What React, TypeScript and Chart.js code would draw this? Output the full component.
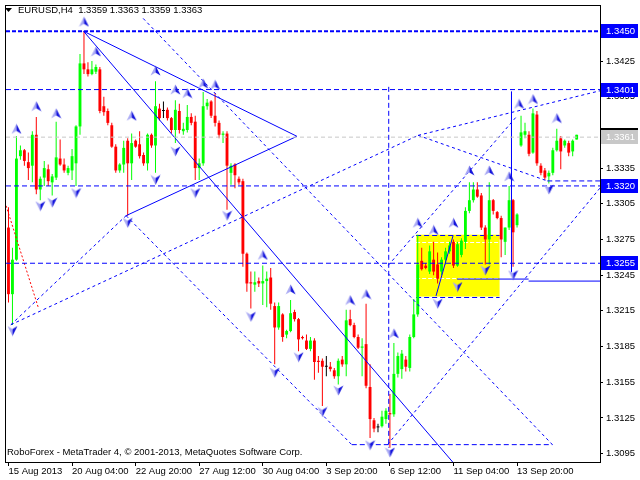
import React, { useEffect, useRef } from 'react';
import { Chart, registerables } from 'chart.js';

Chart.register(...registerables);

// ---- Candle data (EURUSD H4) ----
const opens = [
  1.3285,1.3229,1.3258,1.3345,1.3350,1.3340,1.3337,1.3363,1.3317,1.3327,
  1.3334,1.3323,1.3327,1.3343,1.3338,1.3331,1.3333,1.3339,1.3370,1.3423,
  1.3418,1.3414,1.3416,1.3418,1.3387,1.3383,1.3371,1.3353,1.3333,1.3338,
  1.3358,1.3339,1.3358,1.3355,1.3346,1.3339,1.3363,1.3354,1.3385,1.3383,
  1.3384,1.3377,1.3367,1.3383,1.3366,1.3367,1.3378,1.3374,1.3335,1.3339,
  1.3387,1.3391,1.3379,1.3373,1.3363,1.3364,1.3331,1.3338,1.3326,1.3324,
  1.3263,1.3239,1.3237,1.3240,1.3238,1.3240,1.3243,1.3219,1.3201,1.3212,
  1.3195,1.3198,1.3214,1.3208,1.3193,1.3190,1.3183,1.3190,1.3173,1.3173,
  1.3168,1.3168,1.3165,1.3160,1.3174,1.3170,1.3208,1.3203,1.3193,1.3184,
  1.3187,1.3151,1.3123,1.3117,1.3118,1.3124,1.3129,1.3128,1.3162,1.3166,
  1.3174,1.3167,1.3193,1.3212,1.3257,1.3253,1.3248,1.3258,1.3254,1.3248,
  1.3258,1.3265,1.3273,1.3253,1.3262,1.3273,1.3299,1.3308,1.3317,1.3312,
  1.3285,1.3275,1.3308,1.3298,1.3293,1.3273,1.3285,1.3308,1.3287,1.3354,
  1.3363,1.3363,1.3348,1.3380,1.3337,1.3333,1.3328,1.3331,1.3350,1.3360,
  1.3354,1.3356,1.3349,1.3359,
];
const highs = [
  1.3302,1.3268,1.3362,1.3354,1.3351,1.3348,1.3366,1.3378,1.3328,1.3341,
  1.3338,1.3330,1.3374,1.3359,1.3343,1.3337,1.3351,1.3371,1.3431,1.3450,
  1.3424,1.3425,1.3422,1.3420,1.3395,1.3385,1.3373,1.3355,1.3339,1.3358,
  1.3360,1.3364,1.3359,1.3366,1.3348,1.3364,1.3364,1.3408,1.3389,1.3391,
  1.3386,1.3378,1.3392,1.3389,1.3373,1.3388,1.3381,1.3379,1.3343,1.3399,
  1.3393,1.3392,1.3398,1.3375,1.3366,1.3366,1.3339,1.3339,1.3328,1.3326,
  1.3264,1.3248,1.3248,1.3243,1.3253,1.3248,1.3251,1.3222,1.3222,1.3213,
  1.3199,1.3224,1.3216,1.3209,1.3194,1.3195,1.3193,1.3192,1.3177,1.3175,
  1.3177,1.3172,1.3167,1.3175,1.3177,1.3216,1.3216,1.3205,1.3195,1.3192,
  1.3221,1.3170,1.3125,1.3120,1.3131,1.3133,1.3145,1.3188,1.3180,1.3182,
  1.3177,1.3195,1.3225,1.3279,1.3268,1.3255,1.3270,1.3273,1.3264,1.3260,
  1.3268,1.3273,1.3275,1.3273,1.3276,1.3302,1.3323,1.3323,1.3323,1.3314,
  1.3287,1.3323,1.3309,1.3299,1.3295,1.3285,1.3320,1.3309,1.3297,1.3379,
  1.3373,1.3366,1.3385,1.3383,1.3339,1.3335,1.3333,1.3352,1.3368,1.3362,
  1.3359,1.3358,1.3359,1.3363,
];
const lows = [
  1.3222,1.3203,1.3257,1.3342,1.3337,1.3325,1.3323,1.3313,1.3308,1.3320,
  1.3320,1.3312,1.3325,1.3337,1.3331,1.3329,1.3325,1.3320,1.3363,1.3414,
  1.3412,1.3413,1.3414,1.3381,1.3379,1.3371,1.3352,1.3331,1.3331,1.3331,
  1.3295,1.3325,1.3352,1.3343,1.3337,1.3333,1.3352,1.3331,1.3375,1.3377,
  1.3375,1.3364,1.3356,1.3364,1.3363,1.3365,1.3371,1.3325,1.3325,1.3337,
  1.3384,1.3377,1.3370,1.3360,1.3356,1.3300,1.3321,1.3318,1.3321,1.3252,
  1.3231,1.3217,1.3231,1.3235,1.3220,1.3218,1.3216,1.3170,1.3199,1.3189,
  1.3192,1.3197,1.3206,1.3181,1.3191,1.3182,1.3181,1.3157,1.3163,1.3135,
  1.3160,1.3164,1.3158,1.3153,1.3168,1.3160,1.3202,1.3192,1.3183,1.3160,
  1.3150,1.3108,1.3113,1.3113,1.3117,1.3120,1.3100,1.3126,1.3159,1.3158,
  1.3164,1.3164,1.3192,1.3210,1.3249,1.3250,1.3246,1.3245,1.3238,1.3245,
  1.3254,1.3263,1.3251,1.3252,1.3260,1.3267,1.3297,1.3306,1.3310,1.3283,
  1.3254,1.3254,1.3296,1.3292,1.3260,1.3262,1.3283,1.3252,1.3285,1.3353,
  1.3360,1.3345,1.3347,1.3337,1.3329,1.3325,1.3322,1.3329,1.3349,1.3334,
  1.3352,1.3345,1.3345,1.3359,
];
const closes = [
  1.3229,1.3258,1.3343,1.3350,1.3341,1.3335,1.3363,1.3317,1.3326,1.3335,
  1.3324,1.3328,1.3344,1.3338,1.3333,1.3335,1.3345,1.3370,1.3423,1.3418,
  1.3414,1.3418,1.3420,1.3383,1.3382,1.3373,1.3353,1.3333,1.3338,1.3352,
  1.3339,1.3356,1.3353,1.3345,1.3339,1.3363,1.3354,1.3387,1.3377,1.3383,
  1.3377,1.3367,1.3384,1.3367,1.3368,1.3378,1.3373,1.3335,1.3339,1.3387,
  1.3390,1.3379,1.3373,1.3363,1.3364,1.3337,1.3337,1.3329,1.3323,1.3263,
  1.3238,1.3238,1.3239,1.3238,1.3240,1.3242,1.3221,1.3201,1.3219,1.3193,
  1.3198,1.3213,1.3208,1.3191,1.3192,1.3183,1.3190,1.3172,1.3172,1.3168,
  1.3168,1.3166,1.3160,1.3173,1.3170,1.3207,1.3203,1.3193,1.3184,1.3185,
  1.3152,1.3124,1.3116,1.3117,1.3126,1.3131,1.3128,1.3162,1.3177,1.3179,
  1.3168,1.3193,1.3212,1.3254,1.3250,1.3251,1.3265,1.3248,1.3242,1.3258,
  1.3265,1.3270,1.3253,1.3271,1.3274,1.3299,1.3308,1.3317,1.3311,1.3285,
  1.3275,1.3308,1.3299,1.3293,1.3275,1.3285,1.3308,1.3281,1.3296,1.3365,
  1.3366,1.3347,1.3381,1.3339,1.3331,1.3327,1.3331,1.3350,1.3358,1.3349,
  1.3358,1.3348,1.3358,1.3363,
];

// ---- Axis ticks ----
const xTickBars = [0, 16, 32, 48, 64, 80, 96, 112, 128];
const xTickLabels = ['15 Aug 2013', '20 Aug 04:00', '22 Aug 20:00', '27 Aug 12:00', '30 Aug 04:00', '3 Sep 20:00', '6 Sep 12:00', '11 Sep 04:00', '13 Sep 20:00'];
const yTicks = [1.3095, 1.3125, 1.3155, 1.3185, 1.3215, 1.3245, 1.3275, 1.3305, 1.3335, 1.3365, 1.3395, 1.3425];

// ---- Fractal arrows ----
const upArrowBars = [2, 7, 12, 19, 22, 31, 37, 42, 45, 49, 52, 64, 71, 86, 90, 97, 103, 107, 112, 116, 121, 126, 128.5, 132, 138];
const upArrowPrices = [1.3368, 1.3387, 1.3381, 1.3458, 1.3433, 1.3379, 1.3417, 1.3401, 1.3398, 1.3406, 1.3405, 1.3262, 1.3233, 1.3224, 1.3229, 1.3196, 1.3289, 1.3283, 1.3289, 1.3333, 1.3333, 1.3328, 1.3389, 1.3393, 1.3377];
const downArrowBars = [1, 8, 11, 17, 30, 37, 42, 47, 55, 61, 67, 73, 79, 83, 91, 96, 108, 113, 120, 127, 136];
const downArrowPrices = [1.3198, 1.3303, 1.3306, 1.3314, 1.3289, 1.3325, 1.3349, 1.3314, 1.3295, 1.3210, 1.3163, 1.3176, 1.3130, 1.3148, 1.3102, 1.3096, 1.3221, 1.3235, 1.3249, 1.3245, 1.3317];

// ---- Price levels ----
const levelPrices = [1.3450, 1.3401, 1.3320, 1.3255];
const bidPrice = 1.3361;
const lastPrice = 1.3363;

// ---- Drawn objects: [bar1, price1, bar2, price2] ----
const solidSegments = [
  [18.9, 1.3450, 72.6, 1.33617],
  [29.6, 1.3295, 72.6, 1.33617],
  [18.9, 1.3450, 111.9, 1.30875],
  [107.6, 1.32275, 111.9, 1.32783],
  [112.9, 1.32417, 130.9, 1.32417],
  [130.9, 1.3240, 148.9, 1.3240],
  [126.6, 1.33992, 126.6, 1.32475],
];
const dottedSegments = [
  [0.6, 1.32033, 29.6, 1.3295],
  [0.6, 1.32033, 103.1, 1.33625],
  [103.1, 1.33625, 148.9, 1.3400],
  [103.1, 1.33625, 135.6, 1.33242],
  [29.6, 1.3295, 86.4, 1.31025],
  [33.9, 1.34608, 136.9, 1.31025],
  [95.6, 1.32533, 128.1, 1.33792],
  [95.4, 1.31025, 148.9, 1.33183],
];
const dashedSegments = [
  [135.6, 1.33242, 148.9, 1.33242],
  [86.4, 1.31025, 136.9, 1.31025],
  [95.7, 1.34033, 95.7, 1.3100],
];
const redDotted = [-0.6, 1.33033, 7.6, 1.32167];
const rangeBoxBars = [102.6, 123.6];
const rangeBoxPrices = [1.3279, 1.3227];
const rangeInnerLevels = [1.3273, 1.3243];

const X_MIN = -0.625;
const X_MAX = 148.875;
const Y_MIN = 1.3087917;
const Y_MAX = 1.347125;
const FONT = '"Liberation Sans", Arial, sans-serif';
const BLUE = '#0000ff';

function makeArrow(up: boolean) {
  const c = document.createElement('canvas');
  c.width = 11;
  c.height = 11;
  const g = c.getContext('2d') as CanvasRenderingContext2D;
  if (!up) {
    g.translate(0, 11);
    g.scale(1, -1);
  }
  g.beginPath();
  g.moveTo(5.5, 0.5);
  g.lineTo(0.5, 10.5);
  g.lineTo(5.5, 7.5);
  g.closePath();
  g.fillStyle = '#a8a8f4';
  g.fill();
  g.beginPath();
  g.moveTo(5.5, 0.5);
  g.lineTo(10.5, 10.5);
  g.lineTo(5.5, 7.5);
  g.closePath();
  g.fillStyle = '#1414dc';
  g.fill();
  return c;
}

function seg(s: number[], color: string, dash: number[], width = 1) {
  return {
    type: 'line',
    data: [{ x: s[0], y: s[1] }, { x: s[2], y: s[3] }],
    borderColor: color,
    borderWidth: width,
    borderDash: dash,
    pointRadius: 0,
    fill: false,
    tension: 0,
    order: 2,
  };
}

export default function App() {
  const ref = useRef<HTMLCanvasElement | null>(null);

  useEffect(() => {
    document.body.style.margin = '0';
    const canvas = ref.current;
    if (!canvas) return;

    const colors = opens.map((o, i) => (closes[i] > o ? '#00ff00' : closes[i] < o ? '#ff0000' : '#000000'));
    const wickData = opens.map((_, i) => ({ x: i, y: [lows[i], highs[i]] }));
    const bodyData = opens.map((o, i) => ({ x: i, y: [o, closes[i]] }));

    const datasets: any[] = [
      {
        type: 'bar',
        data: wickData,
        backgroundColor: colors,
        borderWidth: 0,
        grouped: false,
        maxBarThickness: 1,
        inflateAmount: 0,
        order: 10,
      },
      {
        type: 'bar',
        data: bodyData,
        backgroundColor: colors,
        borderWidth: 0,
        grouped: false,
        maxBarThickness: 3,
        minBarLength: 1,
        inflateAmount: 0,
        order: 9,
      },
    ];

    datasets.push(seg([X_MIN, bidPrice, X_MAX, bidPrice], '#c8c8c8', [4, 3]));
    levelPrices.forEach((p, i) => {
      datasets.push(seg([X_MIN, p, X_MAX, p], BLUE, i === 0 ? [4, 2] : [5, 3], i === 0 ? 2 : 1));
    });
    solidSegments.forEach((s) => datasets.push(seg(s, BLUE, [])));
    dottedSegments.forEach((s) => datasets.push(seg(s, BLUE, [3, 3])));
    dashedSegments.forEach((s) => datasets.push(seg(s, BLUE, [5, 3])));
    datasets.push(seg(redDotted, '#ff0000', [2, 2]));

    datasets.push({
      type: 'scatter',
      data: upArrowBars.map((b, i) => ({ x: b, y: upArrowPrices[i] })),
      pointStyle: makeArrow(true),
      pointRadius: 5,
      showLine: false,
      order: 1,
    });
    datasets.push({
      type: 'scatter',
      data: downArrowBars.map((b, i) => ({ x: b, y: downArrowPrices[i] })),
      pointStyle: makeArrow(false),
      pointRadius: 5,
      showLine: false,
      order: 1,
    });

    const rangePlugin = {
      id: 'rangeBox',
      beforeDatasetsDraw(chart: any) {
        const { ctx, scales } = chart;
        const x1 = scales.x.getPixelForValue(rangeBoxBars[0]);
        const x2 = scales.x.getPixelForValue(rangeBoxBars[1]);
        const y1 = scales.y.getPixelForValue(rangeBoxPrices[0]);
        const y2 = scales.y.getPixelForValue(rangeBoxPrices[1]);
        ctx.save();
        ctx.fillStyle = '#ffff00';
        ctx.fillRect(x1, y1, x2 - x1, y2 - y1);
        ctx.strokeStyle = '#ffffff';
        ctx.lineWidth = 1;
        ctx.setLineDash([4, 2]);
        rangeInnerLevels.forEach((p) => {
          const y = Math.round(scales.y.getPixelForValue(p)) + 0.5;
          ctx.beginPath();
          ctx.moveTo(x1, y);
          ctx.lineTo(x2, y);
          ctx.stroke();
        });
        ctx.strokeStyle = BLUE;
        ctx.setLineDash([5, 3]);
        [y1, y2].forEach((yy) => {
          const y = Math.round(yy) + 0.5;
          ctx.beginPath();
          ctx.moveTo(x1, y);
          ctx.lineTo(x2, y);
          ctx.stroke();
        });
        ctx.restore();
      },
    };

    const overlayPlugin = {
      id: 'overlay',
      afterDraw(chart: any) {
        const { ctx, chartArea, scales } = chart;
        ctx.save();
        ctx.strokeStyle = '#000';
        ctx.lineWidth = 1;
        ctx.setLineDash([]);
        ctx.strokeRect(chartArea.left - 0.5, chartArea.top - 0.5, chartArea.right - chartArea.left + 1, chartArea.bottom - chartArea.top + 1);

        ctx.fillStyle = '#000';
        ctx.beginPath();
        ctx.moveTo(5, 8);
        ctx.lineTo(12, 8);
        ctx.lineTo(8.5, 12);
        ctx.closePath();
        ctx.fill();
        ctx.font = `9.5px ${FONT}`;
        ctx.textBaseline = 'middle';
        ctx.textAlign = 'left';
        ctx.fillText('EURUSD,H4  1.3359 1.3363 1.3359 1.3363', 18, 10.5);
        ctx.fillText('RoboForex - MetaTrader 4, \u00A9 2001-2013, MetaQuotes Software Corp.', 7, 452.5);

        const bx = chartArea.right + 1;
        const box = (p: number, text: string, bg: string, fg: string) => {
          const y = Math.round(scales.y.getPixelForValue(p));
          ctx.fillStyle = bg;
          ctx.fillRect(bx, y - 7, 37, 14);
          ctx.fillStyle = fg;
          ctx.fillText(text, bx + 5, y + 0.5);
        };
        box(lastPrice, lastPrice.toFixed(4), '#000000', '#ffffff');
        box(bidPrice, bidPrice.toFixed(4), '#c8c8c8', '#ffffff');
        levelPrices.forEach((p) => box(p, p.toFixed(4), BLUE, '#ffffff'));
        ctx.restore();
      },
    };

    const chart = new Chart(canvas, {
      type: 'bar',
      data: { datasets },
      plugins: [rangePlugin, overlayPlugin],
      options: {
        animation: false,
        responsive: false,
        devicePixelRatio: 1,
        events: [],
        layout: { padding: { left: 2, top: 2, right: 0, bottom: 0 } },
        plugins: { legend: { display: false }, tooltip: { enabled: false } },
        scales: {
          x: {
            type: 'linear',
            min: X_MIN,
            max: X_MAX,
            offset: false,
            border: { display: false },
            grid: { display: true, offset: false, drawOnChartArea: false, drawTicks: true, tickLength: 4, color: '#000' },
            ticks: {
              autoSkip: false,
              maxRotation: 0,
              minRotation: 0,
              align: 'start',
              padding: 0,
              color: '#000',
              font: { family: FONT, size: 9.5 },
              callback: (v: any) => {
                const k = xTickBars.indexOf(Number(v));
                return k >= 0 ? xTickLabels[k] : '';
              },
            },
            afterBuildTicks: (scale: any) => {
              scale.ticks = xTickBars.map((v) => ({ value: v }));
            },
            afterFit: (scale: any) => {
              scale.height = 18;
              scale.paddingLeft = 0;
              scale.paddingRight = 0;
              scale.paddingTop = 0;
              scale.paddingBottom = 0;
            },
          },
          y: {
            type: 'linear',
            position: 'right',
            min: Y_MIN,
            max: Y_MAX,
            border: { display: false },
            grid: { display: true, drawOnChartArea: false, drawTicks: true, tickLength: 3, color: '#000' },
            ticks: {
              autoSkip: false,
              padding: 3,
              color: '#000',
              font: { family: FONT, size: 9.5 },
              callback: (v: any) => Number(v).toFixed(4),
            },
            afterBuildTicks: (scale: any) => {
              scale.ticks = yTicks.map((v) => ({ value: v }));
            },
            afterFit: (scale: any) => {
              scale.width = 40;
              scale.paddingTop = 0;
              scale.paddingBottom = 0;
              scale.paddingLeft = 0;
              scale.paddingRight = 0;
            },
          },
        },
      } as any,
    });

    return () => chart.destroy();
  }, []);

  return (
    <div style={{ width: 640, height: 480, position: 'relative', background: '#fff' }}>
      <canvas ref={ref} width={640} height={480} />
    </div>
  );
}
